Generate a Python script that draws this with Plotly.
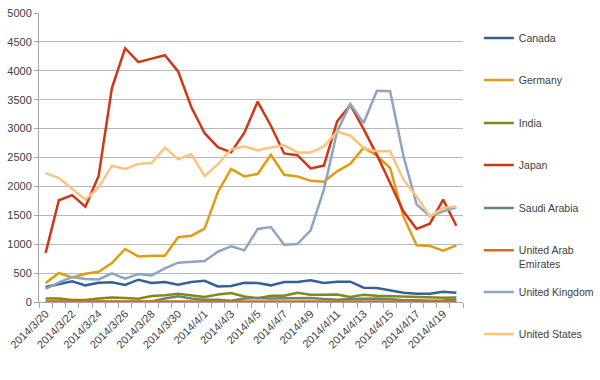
import plotly.graph_objects as go

dates = ["2014/3/20", "2014/3/21", "2014/3/22", "2014/3/23", "2014/3/24", "2014/3/25",
         "2014/3/26", "2014/3/27", "2014/3/28", "2014/3/29", "2014/3/30", "2014/3/31",
         "2014/4/1", "2014/4/2", "2014/4/3", "2014/4/4", "2014/4/5", "2014/4/6",
         "2014/4/7", "2014/4/8", "2014/4/9", "2014/4/10", "2014/4/11", "2014/4/12",
         "2014/4/13", "2014/4/14", "2014/4/15", "2014/4/16", "2014/4/17", "2014/4/18",
         "2014/4/19", "2014/4/20"]

canada = [259, 311, 357, 288, 334, 340, 294, 386, 328, 346, 299, 346, 368, 270, 277, 334,
          328, 288, 346, 346, 374, 328, 351, 351, 247, 242, 201, 161, 144, 143, 178, 161]
germany = [329, 502, 426, 490, 524, 675, 917, 789, 801, 801, 1120, 1147, 1268, 1903, 2301, 2173,
           2214, 2548, 2202, 2173, 2098, 2080, 2260, 2390, 2670, 2530, 2318, 1481, 980, 970, 888, 980]
india = [62, 62, 35, 35, 62, 80, 70, 55, 105, 115, 144, 120, 87, 130, 156, 95,
         64, 109, 109, 161, 127, 127, 130, 87, 127, 109, 100, 90, 85, 75, 75, 80]
japan = [850, 1760, 1850, 1650, 2180, 3700, 4390, 4150, 4210, 4270, 3990, 3370, 2920, 2680, 2590, 2930,
         3465, 3050, 2570, 2540, 2310, 2360, 3125, 3410, 2990, 2545, 2060, 1568, 1263, 1355, 1770, 1320]
saudi = [5, 5, 5, 5, 5, 5, 5, 10, 10, 60, 100, 60, 40, 40, 20, 60,
         70, 60, 60, 60, 70, 50, 40, 50, 55, 60, 50, 30, 30, 20, 25, 40]
uae = [10, 10, 10, 10, 10, 10, 10, 10, 10, 10, 10, 10, 10, 10, 10, 10,
       10, 10, 10, 10, 10, 10, 15, 20, 20, 20, 15, 10, 10, 10, 10, 10]
uk = [225, 340, 432, 398, 391, 495, 403, 484, 460, 582, 680, 697, 709, 870, 962, 893,
      1263, 1298, 991, 1003, 1239, 1945, 2950, 3425, 3097, 3655, 3645, 2530, 1690, 1481, 1568, 1637]
us = [2231, 2145, 1960, 1770, 1983, 2358, 2301, 2387, 2405, 2670, 2470, 2555, 2180, 2380, 2640, 2692,
      2623, 2675, 2710, 2588, 2588, 2692, 2952, 2877, 2664, 2606, 2606, 2116, 1827, 1481, 1626, 1654]

series = [
    ("Canada", canada, "#366193"),
    ("Germany", germany, "#E29C14"),
    ("India", india, "#7E8A1C"),
    ("Japan", japan, "#CF3717"),
    ("Saudi Arabia", saudi, "#62877C"),
    ("United Arab<br>Emirates", uae, "#E06A0E"),
    ("United Kingdom", uk, "#8CA5C4"),
    ("United States", us, "#FDC47E"),
]
legend_y_px = [38, 80, 123, 165, 208, 250, 292, 334]

FONT = "Liberation Sans"
fig = go.Figure()
layout_legends = {}
for i, (name, vals, color) in enumerate(series):
    key = "legend" if i == 0 else f"legend{i+1}"
    fig.add_trace(go.Scatter(x=dates, y=vals, name=name, mode="lines",
                             line=dict(color=color, width=2.5), legend=key))
    two_line = "<br>" in name
    layout_legends[key] = dict(
        xref="container", yref="container",
        x=0.798, y=1 - (legend_y_px[i] - (13 if two_line else 0)) / 380,
        xanchor="left", yanchor="top" if two_line else "middle",
        valign="top" if two_line else "middle",
        bgcolor="rgba(0,0,0,0)", borderwidth=0,
        font=dict(family=FONT, size=10.5, color="#404040"),
    )

ticktext = [d if i % 2 == 0 else "" for i, d in enumerate(dates)]

fig.update_layout(
    width=600, height=380,
    margin=dict(l=39, r=137, t=13, b=78, autoexpand=False),
    plot_bgcolor="white", paper_bgcolor="white",
    font=dict(family=FONT, size=11, color="#595959"),
    showlegend=True,
    xaxis=dict(type="category", tickmode="array", tickvals=dates, ticktext=ticktext,
               tickson="boundaries", ticks="outside", ticklen=5, tickcolor="#A6A6A6",
               tickangle=-45, showline=True, linecolor="#A6A6A6", linewidth=1,
               showgrid=False, range=[-0.5, 31.5],
               tickfont=dict(family=FONT, size=11, color="#404040")),
    yaxis=dict(range=[0, 5000], dtick=500, tick0=0, showgrid=True, gridcolor="#B8B8B8",
               gridwidth=1, showline=True, linecolor="#A6A6A6", ticks="outside",
               ticklen=4, tickcolor="#A6A6A6", zeroline=False,
               tickfont=dict(family=FONT, size=11, color="#404040")),
    **layout_legends,
)

fig.write_html("out.html", config={"displayModeBar": False},
               post_script="document.body.style.margin='0';document.body.style.padding='0';")
